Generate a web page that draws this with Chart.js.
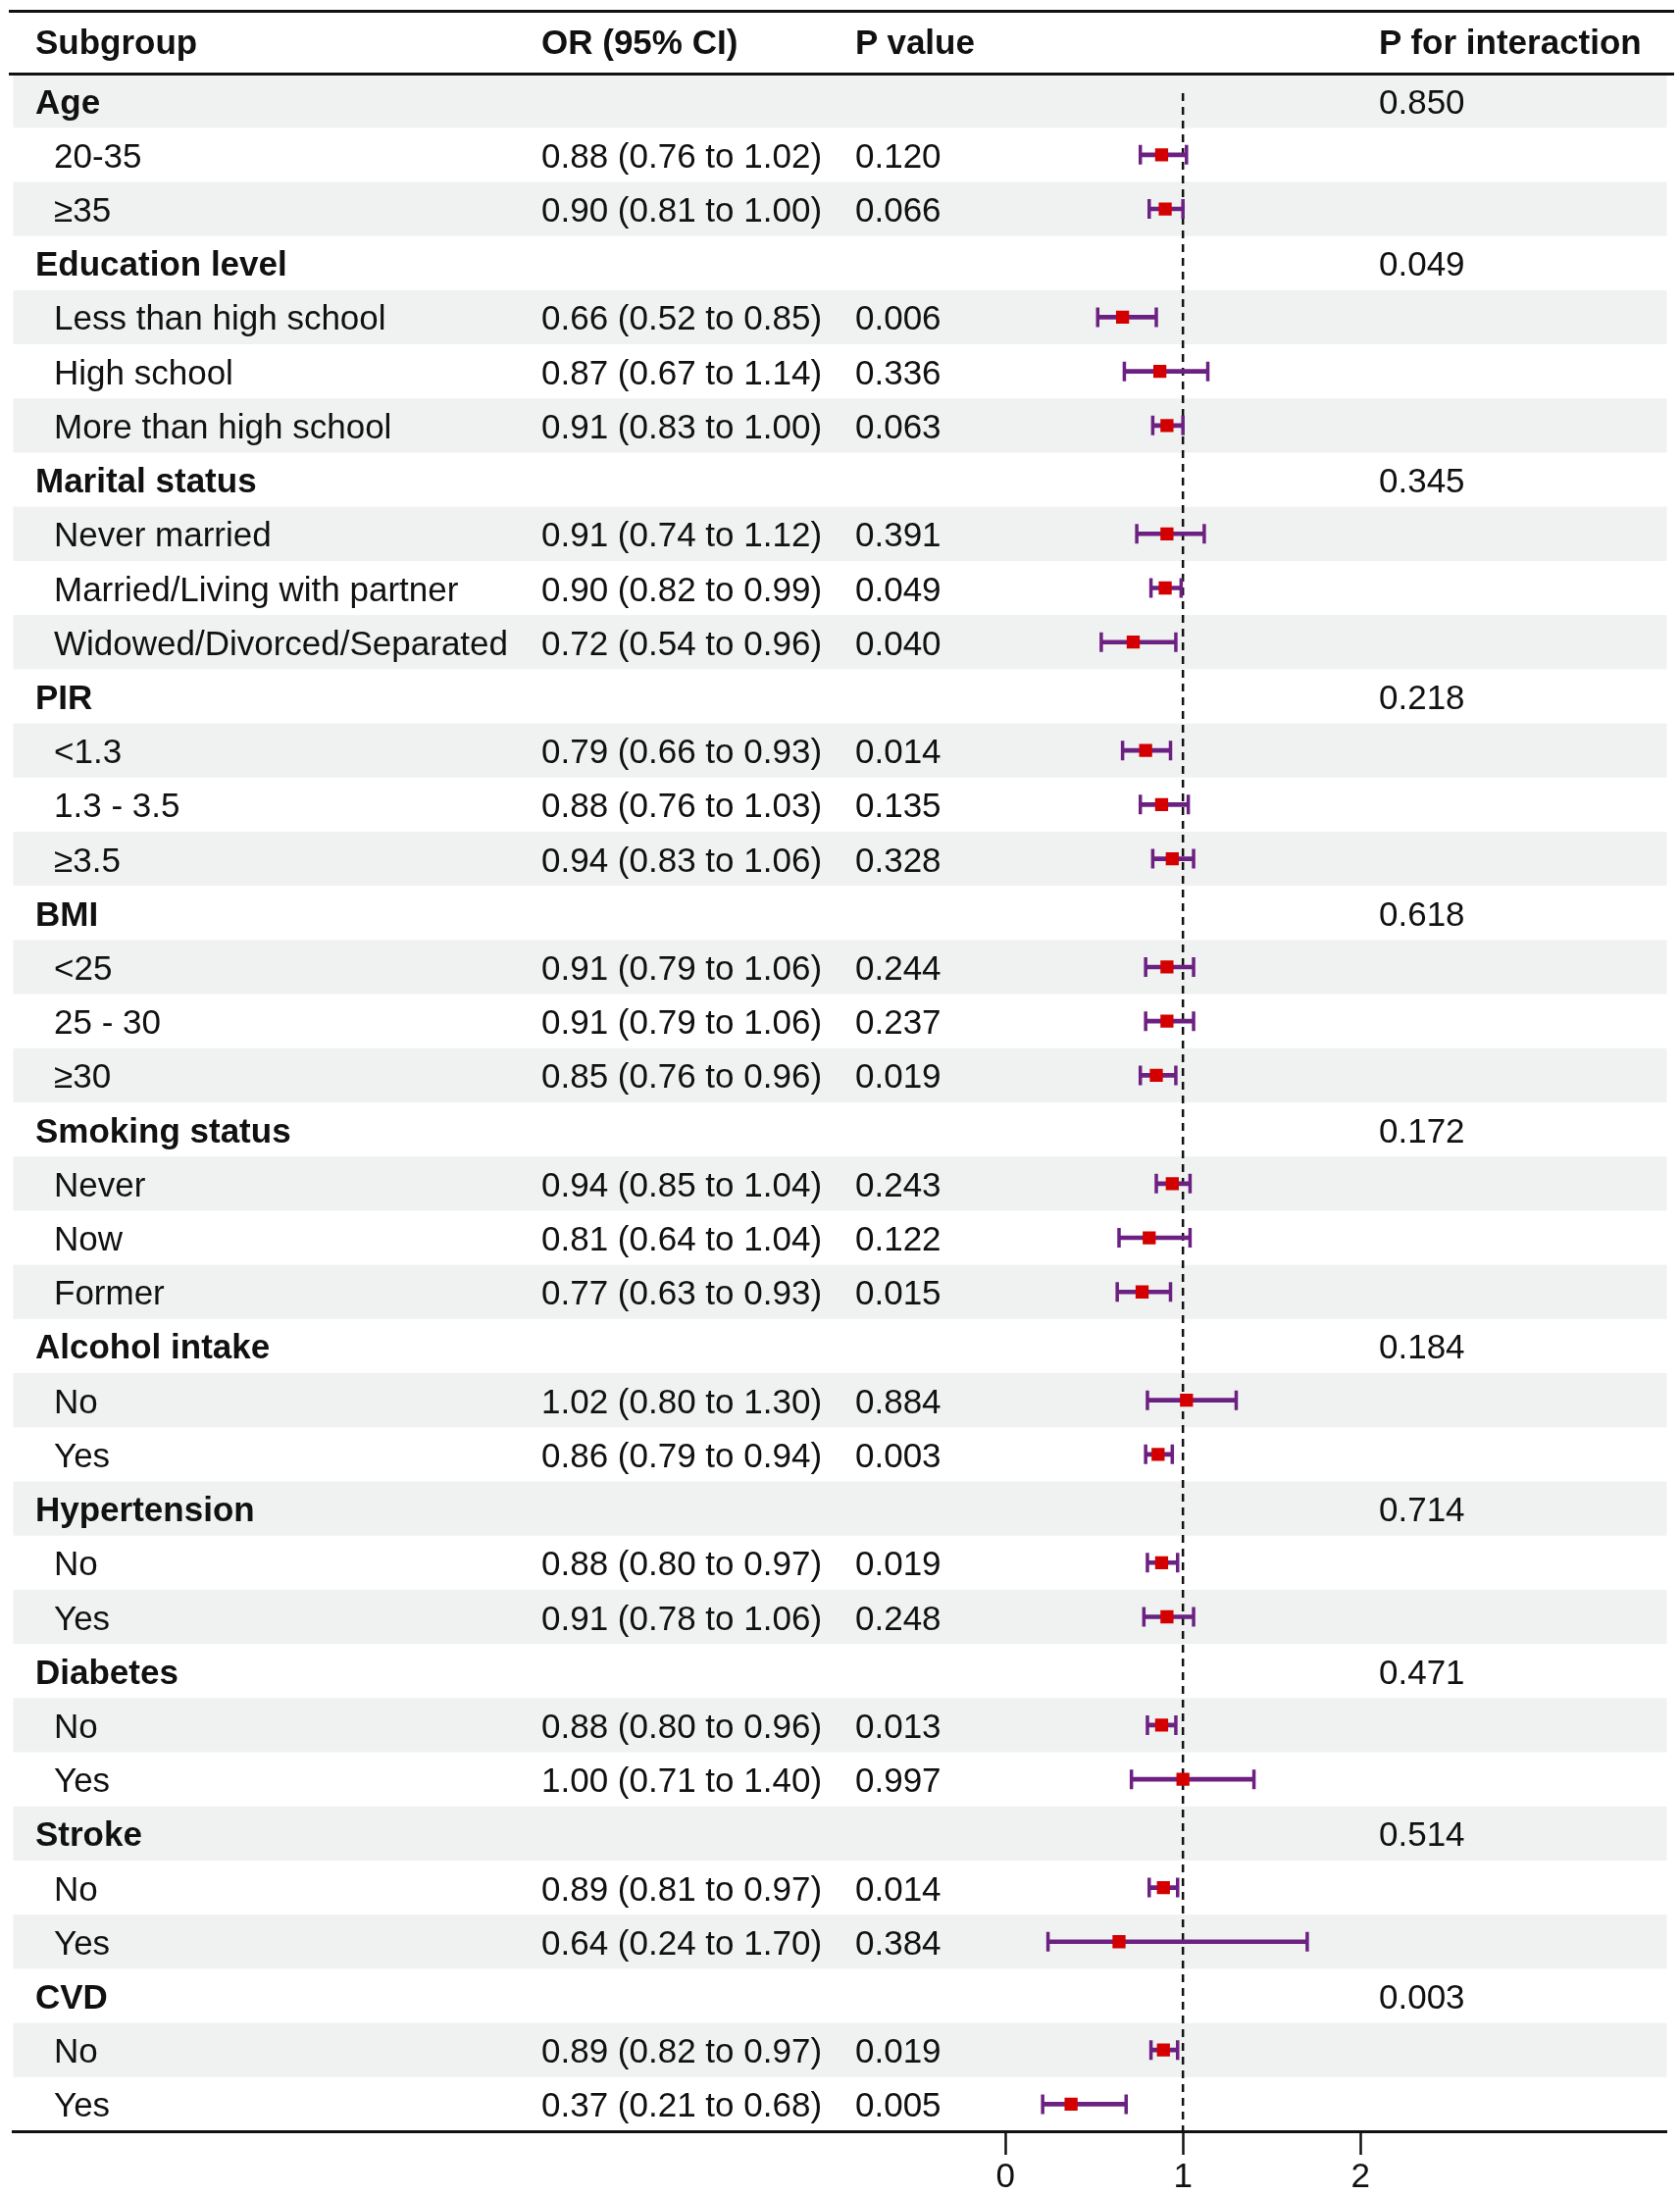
<!DOCTYPE html>
<html>
<head>
<meta charset="utf-8">
<title>Subgroup forest plot</title>
<script src="https://cdn.jsdelivr.net/npm/chart.js@4.4.0/dist/chart.umd.min.js"></script>
<style>
html, body { margin: 0; padding: 0; background: #fff; }
#wrap { position: relative; width: 1713px; height: 2238px; font-family: "Liberation Sans", Arial, sans-serif; color: #111; }
#wrap canvas { position: absolute; left: 0; top: 0; }
.t { position: absolute; font-size: 35px; line-height: 40px; white-space: nowrap; transform: translateY(-50%); }
.b { font-weight: bold; }
.rule { position: absolute; left: 9px; width: 1698px; height: 3px; background: #111; }
</style>
</head>
<body>
<div id="wrap">
  <canvas id="forest" width="1713" height="2238"></canvas>
</div>
<script>
// table rows, top to bottom
var labels = ["Age", "20-35", "≥35", "Education level", "Less than high school", "High school", "More than high school",
  "Marital status", "Never married", "Married/Living with partner", "Widowed/Divorced/Separated",
  "PIR", "<1.3", "1.3 - 3.5", "≥3.5", "BMI", "<25", "25 - 30", "≥30",
  "Smoking status", "Never", "Now", "Former", "Alcohol intake", "No", "Yes",
  "Hypertension", "No", "Yes", "Diabetes", "No", "Yes", "Stroke", "No", "Yes", "CVD", "No", "Yes"];
var oddsRatio = [null, 0.88, 0.90, null, 0.66, 0.87, 0.91, null, 0.91, 0.90, 0.72, null, 0.79, 0.88, 0.94, null, 0.91, 0.91, 0.85,
  null, 0.94, 0.81, 0.77, null, 1.02, 0.86, null, 0.88, 0.91, null, 0.88, 1.00, null, 0.89, 0.64, null, 0.89, 0.37];
var ciLower = [null, 0.76, 0.81, null, 0.52, 0.67, 0.83, null, 0.74, 0.82, 0.54, null, 0.66, 0.76, 0.83, null, 0.79, 0.79, 0.76,
  null, 0.85, 0.64, 0.63, null, 0.80, 0.79, null, 0.80, 0.78, null, 0.80, 0.71, null, 0.81, 0.24, null, 0.82, 0.21];
var ciUpper = [null, 1.02, 1.00, null, 0.85, 1.14, 1.00, null, 1.12, 0.99, 0.96, null, 0.93, 1.03, 1.06, null, 1.06, 1.06, 0.96,
  null, 1.04, 1.04, 0.93, null, 1.30, 0.94, null, 0.97, 1.06, null, 0.96, 1.40, null, 0.97, 1.70, null, 0.97, 0.68];
var pValue = [null, "0.120", "0.066", null, "0.006", "0.336", "0.063", null, "0.391", "0.049", "0.040", null, "0.014", "0.135", "0.328",
  null, "0.244", "0.237", "0.019", null, "0.243", "0.122", "0.015", null, "0.884", "0.003", null, "0.019", "0.248",
  null, "0.013", "0.997", null, "0.014", "0.384", null, "0.019", "0.005"];
var pInteraction = ["0.850", null, null, "0.049", null, null, null, "0.345", null, null, null, "0.218", null, null, null,
  "0.618", null, null, null, "0.172", null, null, null, "0.184", null, null, "0.714", null, null, "0.471", null, null,
  "0.514", null, null, "0.003", null, null];
var headers = ["Subgroup", "OR (95% CI)", "P value", "P for interaction"];
var xTicks = [0, 1, 2];
var refLine = 1;

var purple = '#6c2182';
var red = '#d40000';

var bars = [], caps = [], points = [];
for (var i = 0; i < labels.length; i++) {
  if (oddsRatio[i] === null) continue;
  bars.push({ x: [ciLower[i], ciUpper[i]], y: i });
  caps.push({ x: ciLower[i], y: i });
  caps.push({ x: ciUpper[i], y: i });
  points.push({ x: oddsRatio[i], y: i });
}

// light bands behind every other row
var rowBands = {
  id: 'rowBands',
  beforeDatasetsDraw: function(chart) {
    var ctx = chart.ctx, a = chart.chartArea, ys = chart.scales.y;
    ctx.save();
    ctx.fillStyle = '#eff2f1';
    for (var r = 0; r < labels.length; r += 2) {
      var top = ys.getPixelForValue(r - 0.5), bottom = ys.getPixelForValue(r + 0.5);
      ctx.fillRect(a.left, top, a.right - a.left, bottom - top);
    }
    ctx.restore();
  }
};

var chart = new Chart(document.getElementById('forest').getContext('2d'), {
  type: 'scatter',
  data: {
    datasets: [{
      type: 'line',
      data: [{ x: refLine, y: -0.14 }, { x: refLine, y: labels.length - 0.5 }],
      borderColor: '#111',
      borderWidth: 2.5,
      borderDash: [8, 6],
      pointRadius: 0,
      order: 4
    }, {
      type: 'bar',
      indexAxis: 'y',
      data: bars,
      backgroundColor: purple,
      borderWidth: 0,
      barThickness: 4,
      grouped: false,
      order: 3
    }, {
      data: caps,
      pointStyle: 'line',
      rotation: 90,
      radius: 10,
      borderWidth: 3.5,
      borderColor: purple,
      order: 2
    }, {
      data: points,
      pointStyle: 'rect',
      radius: 9.4,
      backgroundColor: red,
      borderWidth: 0,
      order: 1
    }]
  },
  options: {
    responsive: false,
    animation: false,
    devicePixelRatio: 1,
    layout: { padding: { top: 75, left: 10, right: 8, bottom: 0 } },
    plugins: { legend: { display: false }, tooltip: { enabled: false } },
    scales: {
      x: {
        type: 'linear',
        position: 'bottom',
        offset: false,
        min: -5.588,
        max: 3.725,
        afterBuildTicks: function(scale) {
          scale.ticks = xTicks.map(function(v) { return { value: v }; });
        },
        afterFit: function(scale) { scale.height = 65; },
        ticks: {
          autoSkip: false,
          maxRotation: 0,
          padding: 2,
          color: '#111',
          font: { family: 'Liberation Sans', size: 35 },
          callback: function(v) { return String(v); }
        },
        grid: { display: true, offset: false, drawOnChartArea: false, drawTicks: true, tickLength: 24, tickColor: '#111', tickWidth: 2.5 },
        border: { display: true, color: '#111', width: 3 }
      },
      y: {
        type: 'linear',
        display: false,
        offset: false,
        grid: { offset: false },
        reverse: true,
        min: -0.5,
        max: labels.length - 0.5
      }
    }
  },
  plugins: [rowBands]
});

// table text placed on the chart's own row positions
var wrap = document.getElementById('wrap');
var colX = [36, 552, 872, 1406];
function addText(txt, x, y, bold) {
  var d = document.createElement('div');
  d.className = 't' + (bold ? ' b' : '');
  d.textContent = txt;
  d.style.left = x + 'px';
  d.style.top = y + 'px';
  wrap.appendChild(d);
}
function addRule(y) {
  var d = document.createElement('div');
  d.className = 'rule';
  d.style.top = (y - 1.5) + 'px';
  wrap.appendChild(d);
}
addRule(11);
addRule(chart.chartArea.top);
headers.forEach(function(h, k) { addText(h, colX[k], 43, true); });
var ys = chart.scales.y;
labels.forEach(function(lab, r) {
  var yc = ys.getPixelForValue(r) + 1;
  var isGroup = oddsRatio[r] === null;
  addText(lab, isGroup ? colX[0] : colX[0] + 19, yc, isGroup);
  if (!isGroup) {
    addText(oddsRatio[r].toFixed(2) + ' (' + ciLower[r].toFixed(2) + ' to ' + ciUpper[r].toFixed(2) + ')', colX[1], yc, false);
    addText(pValue[r], colX[2], yc, false);
  }
  if (pInteraction[r] !== null) addText(pInteraction[r], colX[3], yc, false);
});
</script>
</body>
</html>
